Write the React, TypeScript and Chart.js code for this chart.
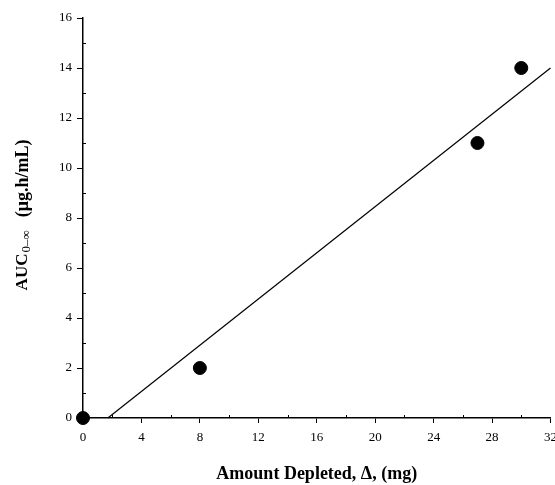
import React, { useEffect, useRef } from "react";
import { Chart, registerables } from "chart.js";

Chart.register(...registerables);

const amountDepleted = [0, 8, 27, 30];
const aucValues = [0, 2, 11, 14];
const fitX = [1.7, 32];
const fitY = [0, 14];
const xMinorTicks = [2, 6, 10, 14, 18, 22, 26, 30];
const yMinorTicks = [1, 3, 5, 7, 9, 11, 13, 15];

const FONT = "'Liberation Serif', 'Times New Roman', serif";
const CANVAS_W = 564;

const extrasPlugin = {
  id: "extras",
  afterDraw(chart: any) {
    const ctx = chart.ctx;
    const xs = chart.scales.x;
    const ys = chart.scales.y;
    ctx.save();
    ctx.strokeStyle = "#000";
    ctx.lineWidth = 1;
    ctx.beginPath();
    for (const v of xMinorTicks) {
      const px = Math.round(xs.getPixelForValue(v)) + 0.5;
      ctx.moveTo(px, ys.bottom);
      ctx.lineTo(px, ys.bottom - 3);
    }
    for (const v of yMinorTicks) {
      const py = Math.round(ys.getPixelForValue(v)) + 0.5;
      ctx.moveTo(xs.left, py);
      ctx.lineTo(xs.left + 3, py);
    }
    ctx.stroke();

    // y-axis title with subscript
    const cy = 215;
    const cx = 23;
    ctx.translate(cx, cy);
    ctx.rotate(-Math.PI / 2);
    ctx.fillStyle = "#000";
    ctx.textBaseline = "middle";
    const parts = [
      { t: "AUC", f: `bold 17px ${FONT}`, dy: 0, gap: 1 },
      { t: "0\u2013\u221E", f: `13px ${FONT}`, dy: 4, gap: 13 },
      { t: "(\u03BCg.h/mL)", f: `bold 18px ${FONT}`, dy: 0, gap: 0 },
    ];
    let total = 0;
    for (const p of parts) {
      ctx.font = p.f;
      total += ctx.measureText(p.t).width + p.gap;
    }
    let x = -total / 2;
    ctx.textAlign = "left";
    for (const p of parts) {
      ctx.font = p.f;
      ctx.fillText(p.t, x, p.dy);
      x += ctx.measureText(p.t).width + p.gap;
    }
    ctx.restore();
  },
};

export default function App() {
  const canvasRef = useRef<HTMLCanvasElement | null>(null);

  useEffect(() => {
    if (!canvasRef.current) return;
    const chart = new Chart(canvasRef.current, {
      type: "scatter",
      data: {
        datasets: [
          {
            label: "Observed",
            data: amountDepleted.map((x, i) => ({ x, y: aucValues[i] })),
            backgroundColor: "#000",
            borderColor: "#000",
            pointRadius: 6.5,
            pointHoverRadius: 6.5,
            clip: false,
          } as any,
          {
            type: "line",
            label: "Fit",
            data: fitX.map((x, i) => ({ x, y: fitY[i] })),
            borderColor: "#000",
            borderWidth: 1.2,
            pointRadius: 0,
            showLine: true,
            fill: false,
            clip: false,
          } as any,
        ],
      },
      options: {
        animation: false,
        responsive: false,
        maintainAspectRatio: false,
        layout: { padding: { top: 18, right: 0, left: 0, bottom: 0 } },
        plugins: {
          legend: { display: false },
          tooltip: { enabled: false },
        },
        scales: {
          x: {
            type: "linear",
            min: 0,
            max: 32,
            afterFit: (s: any) => {
              s.height = 67;
            },
            ticks: {
              stepSize: 4,
              color: "#000",
              font: { family: FONT, size: 13 },
              padding: 7,
              maxRotation: 0,
            },
            grid: {
              drawOnChartArea: false,
              drawTicks: true,
              tickLength: 5,
              tickColor: "#000",
            },
            border: { display: true, color: "#000", width: 1.5 },
            title: {
              display: true,
              text: "Amount Depleted, \u0394, (mg)",
              color: "#000",
              font: { family: FONT, size: 18, weight: "bold" },
              padding: { top: 0, bottom: 0 },
            },
          },
          y: {
            type: "linear",
            min: 0,
            max: 16,
            afterFit: (s: any) => {
              s.width = 83;
            },
            ticks: {
              stepSize: 2,
              color: "#000",
              font: { family: FONT, size: 13 },
              padding: 5,
            },
            grid: {
              drawOnChartArea: false,
              drawTicks: true,
              tickLength: 6,
              tickColor: "#000",
            },
            border: { display: true, color: "#000", width: 1.5 },
          },
        },
      } as any,
      plugins: [extrasPlugin],
    });
    return () => chart.destroy();
  }, []);

  return (
    <div
      style={{
        position: "absolute",
        left: 0,
        top: 0,
        width: 555,
        height: 485,
        overflow: "hidden",
        background: "#fff",
      }}
    >
      <canvas
        ref={canvasRef}
        width={CANVAS_W}
        height={485}
        style={{ width: CANVAS_W, height: 485, display: "block" }}
      />
    </div>
  );
}
